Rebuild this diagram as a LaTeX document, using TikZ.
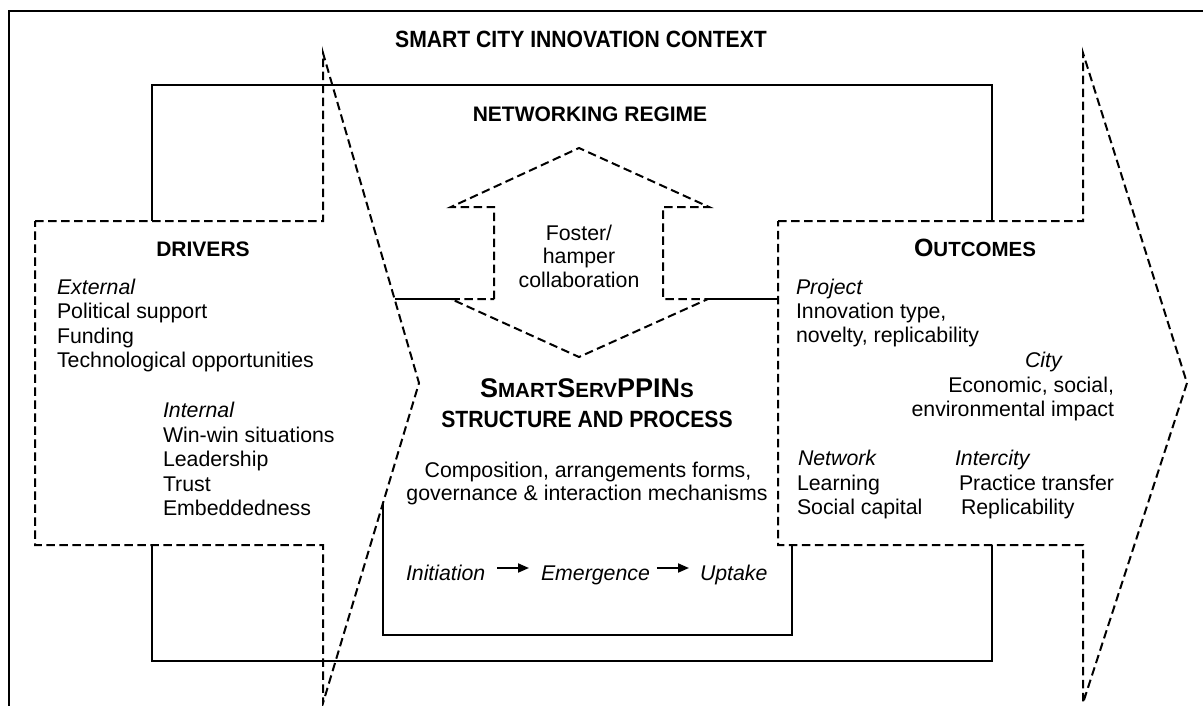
\documentclass[tikz,border=0pt]{standalone}
\usepackage{fontspec}
\setmainfont{Liberation Sans}
\newfontfamily\condfont[FakeStretch=0.9]{Liberation Sans}
\usetikzlibrary{arrows.meta}
\begin{document}
\begin{tikzpicture}[x=1pt,y=-1pt,
  solidline/.style={line width=2.2pt, line join=miter},
  dashline/.style={line width=2pt, dash pattern=on 8.5pt off 4.5pt, line join=miter},
  txt/.style={inner sep=0pt, outer sep=0pt, font=\fontsize{21.3}{24.5}\selectfont},
  txtl/.style={txt, anchor=base west},
  txtr/.style={txt, anchor=base east},
  txtc/.style={txt, anchor=base},
  procarrow/.style={line width=1.9pt, -{Triangle[length=11pt,width=9pt]}}
]
\useasboundingbox (0,0) rectangle (1203,705);
% outer context frame (cropped at right and bottom)
\draw[solidline] (9,706) -- (9,11) -- (1204,11);
% networking regime frame
\draw[solidline] (152,221) -- (152,85) -- (992,85) -- (992,221);
\draw[solidline] (152,545) -- (152,661) -- (992,661) -- (992,545);
% structure and process frame
\draw[solidline] (395,299) -- (452,299);
\draw[solidline] (708,299) -- (778,299);
\draw[solidline] (383,503) -- (383,635) -- (792,635) -- (792,545);
% drivers arrow
\draw[dashline] (35,221) -- (323,221) -- (323,53) -- (419,383) -- (323,703) -- (323,545) -- (35,545) -- cycle;
% outcomes arrow
\draw[dashline] (778,221) -- (1083,221) -- (1083,53) -- (1187,383) -- (1083,703) -- (1083,545) -- (778,545) -- cycle;
% double arrow
\draw[dashline] (494,299) -- (494,207) -- (451,207) -- (579,148) -- (709,207) -- (663,207) -- (663,299) -- (708,299) -- (579,357) -- (451,299) -- cycle;

% titles
\node[txtc, font=\condfont\bfseries\fontsize{23.5}{26}\selectfont] (ctx) at (581,47) {SMART CITY INNOVATION CONTEXT};
\node[txtc, font=\bfseries\fontsize{21}{24}\selectfont] (net) at (590,121) {NETWORKING REGIME};

% double arrow text
\node[txtc] (fos) at (579,240) {Foster/};
\node[txtc] (ham) at (579,263) {hamper};
\node[txtc] (col) at (579,287) {collaboration};

% drivers
\node[txtc, font=\bfseries\fontsize{21}{24}\selectfont] (drv) at (203,256) {DRIVERS};
\node[txtl] (ext) at (57,294) {\itshape External};
\node[txtl] (pol) at (57,318.5) {Political support};
\node[txtl] (fun) at (57,343) {Funding};
\node[txtl] (tec) at (57,367) {Technological opportunities};
\node[txtl] (int) at (163,417) {\itshape Internal};
\node[txtl] (win) at (163,442) {Win-win situations};
\node[txtl] (lea) at (163,466) {Leadership};
\node[txtl] (tru) at (163,491) {Trust};
\node[txtl] (emb) at (163,515) {Embeddedness};

% structure and process
\node[txtc, font=\bfseries] (ssp) at (587,397) {\fontsize{27}{30}\selectfont S\fontsize{20.5}{24}\selectfont MART\fontsize{27}{30}\selectfont S\fontsize{20.5}{24}\selectfont ERV\fontsize{27}{30}\selectfont PPIN\fontsize{20.5}{24}\selectfont S};
\node[txtc, font=\condfont\bfseries\fontsize{23.5}{26}\selectfont] (sap) at (587,427) {STRUCTURE AND PROCESS};
\node[txtc] (cmp) at (588,477) {Composition, arrangements forms,};
\node[txtc] (gov) at (587,500) {governance \& interaction mechanisms};
\node[txtl] (ini) at (406,580) {\itshape Initiation};
\node[txtl] (eme) at (541,580) {\itshape Emergence};
\node[txtl] (upt) at (700,580) {\itshape Uptake};
\draw[procarrow] ([xshift=12pt,yshift=12pt]ini.base east) -- ([xshift=-12pt,yshift=12pt]eme.base west);
\draw[procarrow] ([xshift=7pt,yshift=12pt]eme.base east) -- ([xshift=-11pt,yshift=12pt]upt.base west);

% outcomes
\node[txtc, font=\bfseries] (out) at (975,256) {\fontsize{25}{28}\selectfont O\fontsize{20.5}{24}\selectfont UTCOMES};
\node[txtl] (prj) at (796,294) {\itshape Project};
\node[txtl] (inn) at (796,318) {Innovation type,};
\node[txtl] (nov) at (796,342) {novelty, replicability};
\node[txtl] (cty) at (1025,367) {\itshape City};
\node[txtr] (eco) at (1114,392) {Economic, social,};
\node[txtr] (env) at (1114,416) {environmental impact};
\node[txtl] (nwk) at (798,465) {\itshape Network};
\node[txtl] (lrn) at (797,490) {Learning};
\node[txtl] (soc) at (797,514) {Social capital};
\node[txtl] (itc) at (955,465) {\itshape Intercity};
\node[txtl] (prt) at (959,490) {Practice transfer};
\node[txtl] (rep) at (961,514) {Replicability};
\end{tikzpicture}
\end{document}
